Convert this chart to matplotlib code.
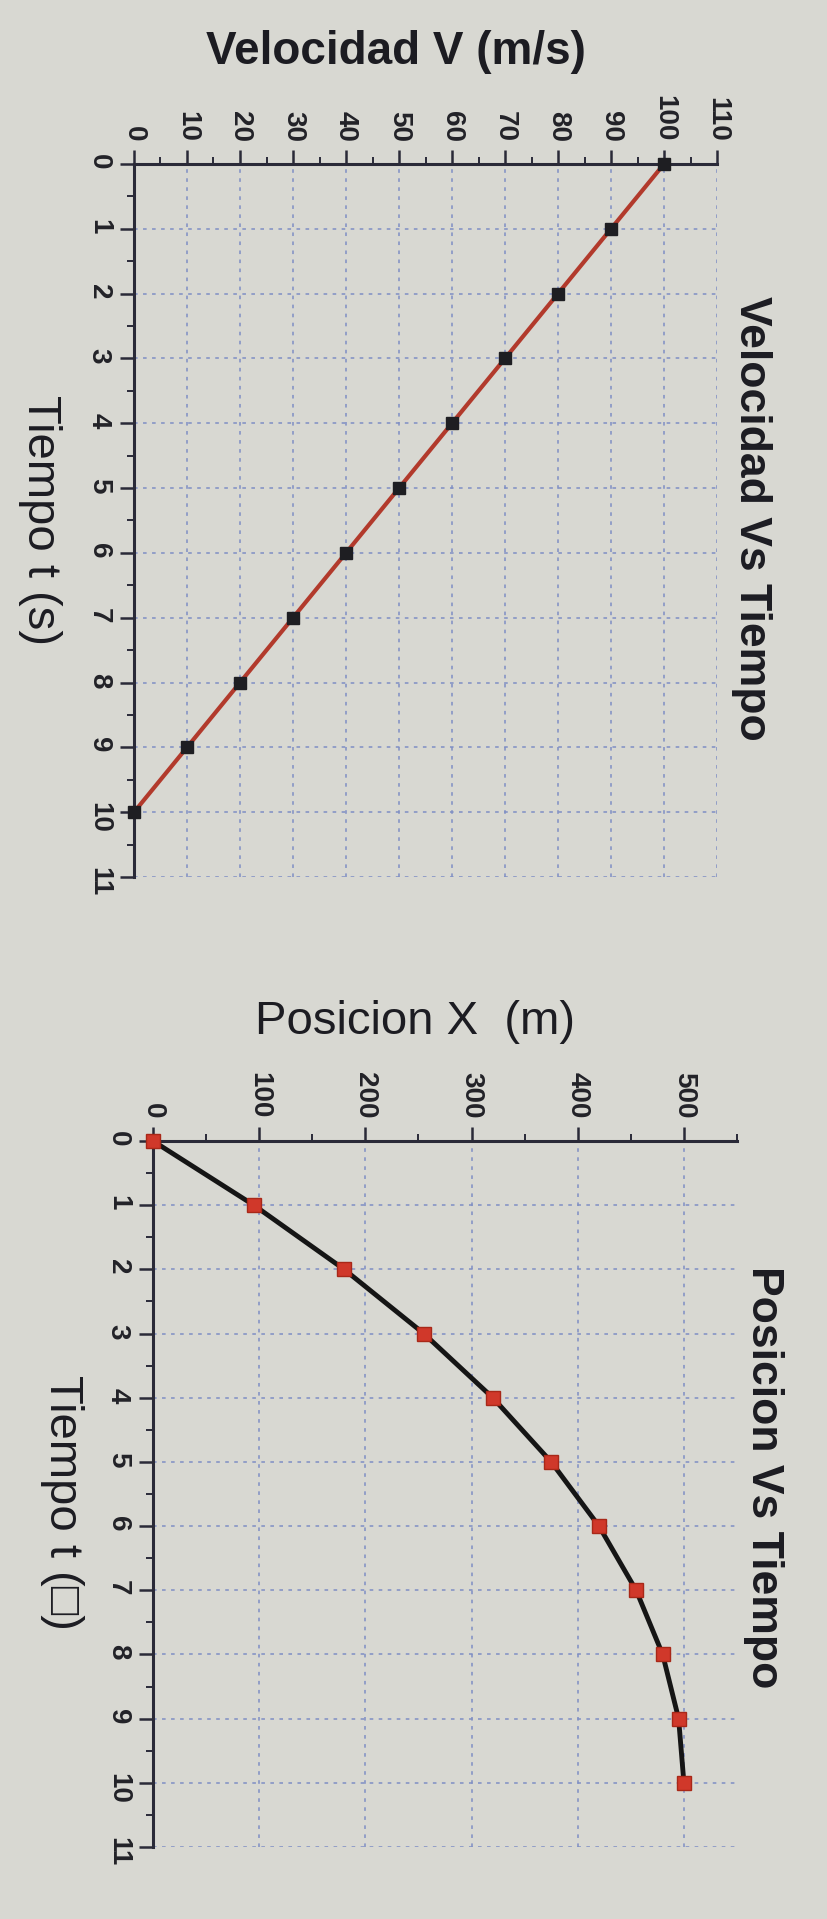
import matplotlib
matplotlib.use('Agg')
import matplotlib.pyplot as plt

tiempo = [0, 1, 2, 3, 4, 5, 6, 7, 8, 9, 10]
velocidad = [100, 90, 80, 70, 60, 50, 40, 30, 20, 10, 0]
posicion = [0, 95, 180, 255, 320, 375, 420, 455, 480, 495, 500]

t_ticks = [0, 1, 2, 3, 4, 5, 6, 7, 8, 9, 10, 11]
v_ticks = [0, 10, 20, 30, 40, 50, 60, 70, 80, 90, 100, 110]
x_ticks = [0, 100, 200, 300, 400, 500]

W, H = 828, 1919
bg = '#d8d8d2'
plt.rcParams['font.family'] = ['Liberation Sans', 'DejaVu Sans']


def frac(x, y):
    return x / W, 1 - y / H


def make_axes(fig, left, top, right, bottom):
    l, t = frac(left, top)
    r, b = frac(right, bottom)
    return fig.add_axes([l, b, r - l, t - b])


def setup(ax, xlim, xticks, xminor):
    ax.set_facecolor('none')
    ax.set_xlim(*xlim)
    ax.set_ylim(11, 0)
    ax.xaxis.tick_top()
    ax.set_xticks(xticks)
    ax.set_xticks(xminor, minor=True)
    ax.set_yticks(t_ticks)
    ax.set_yticks([i + 0.5 for i in range(11)], minor=True)
    for s in ['right', 'bottom']:
        ax.spines[s].set_visible(False)
    for s in ['left', 'top']:
        ax.spines[s].set_linewidth(2.2)
        ax.spines[s].set_color('#2a2a38')
    ax.tick_params(which='major', direction='out', length=10, width=1.8,
                   color='#2a2a38', labelsize=20, pad=6, labelrotation=-90)
    ax.tick_params(which='minor', direction='out', length=5, width=1.4,
                   color='#2a2a38')
    for lab in ax.get_xticklabels() + ax.get_yticklabels():
        lab.set_fontweight('bold')
        lab.set_color('#222228')
    ax.grid(True, which='major', color='#7f8fc4', linestyle=(0, (2, 3)),
            linewidth=1.3, alpha=0.85)
    ax.set_axisbelow(True)


fig = plt.figure(figsize=(W / 100, H / 100), dpi=100, facecolor=bg)

# Velocidad Vs Tiempo
ax1 = make_axes(fig, 134, 164, 717, 877)
setup(ax1, (0, 110), v_ticks, [5 + 10 * i for i in range(11)])
ax1.plot(velocidad, tiempo, color='#b23a2c', linewidth=3, zorder=3,
         clip_on=False)
ax1.plot(velocidad, tiempo, linestyle='none', marker='s', markersize=8.5,
         color='#1e1e22', zorder=4, clip_on=False)

# Posicion Vs Tiempo
ax2 = make_axes(fig, 153, 1141, 737, 1847)
setup(ax2, (0, 550), x_ticks, [50 + 100 * i for i in range(6)])
ax2.plot(posicion, tiempo, color='#151515', linewidth=3.5, zorder=3,
         clip_on=False)
ax2.plot(posicion, tiempo, linestyle='none', marker='s', markersize=10.5,
         color='#d0382a', markeredgecolor='#a82818', zorder=4, clip_on=False)

# textos
x, y = frac(396, 52)
fig.text(x, y, 'Velocidad V (m/s)', fontsize=33, fontweight='bold',
         ha='center', va='center', color='#1c1c22')
x, y = frac(752, 518)
fig.text(x, y, 'Velocidad Vs Tiempo', fontsize=32, fontweight='bold',
         rotation=-90, ha='center', va='center', color='#1c1c22')
x, y = frac(40, 520)
fig.text(x, y, 'Tiempo t (s)', fontsize=34, rotation=-90,
         ha='center', va='center', color='#1c1c22')

x, y = frac(415, 1022)
fig.text(x, y, 'Posicion X  (m)', fontsize=34, ha='center', va='center',
         color='#1c1c22')
x, y = frac(764, 1477)
fig.text(x, y, 'Posicion Vs Tiempo', fontsize=32, fontweight='bold',
         rotation=-90, ha='center', va='center', color='#1c1c22')
x, y = frac(62, 1502)
fig.text(x, y, 'Tiempo t (\u25a1)', fontsize=34, rotation=-90,
         ha='center', va='center', color='#1c1c22')

fig.savefig('out.png', dpi=100, facecolor=bg)
